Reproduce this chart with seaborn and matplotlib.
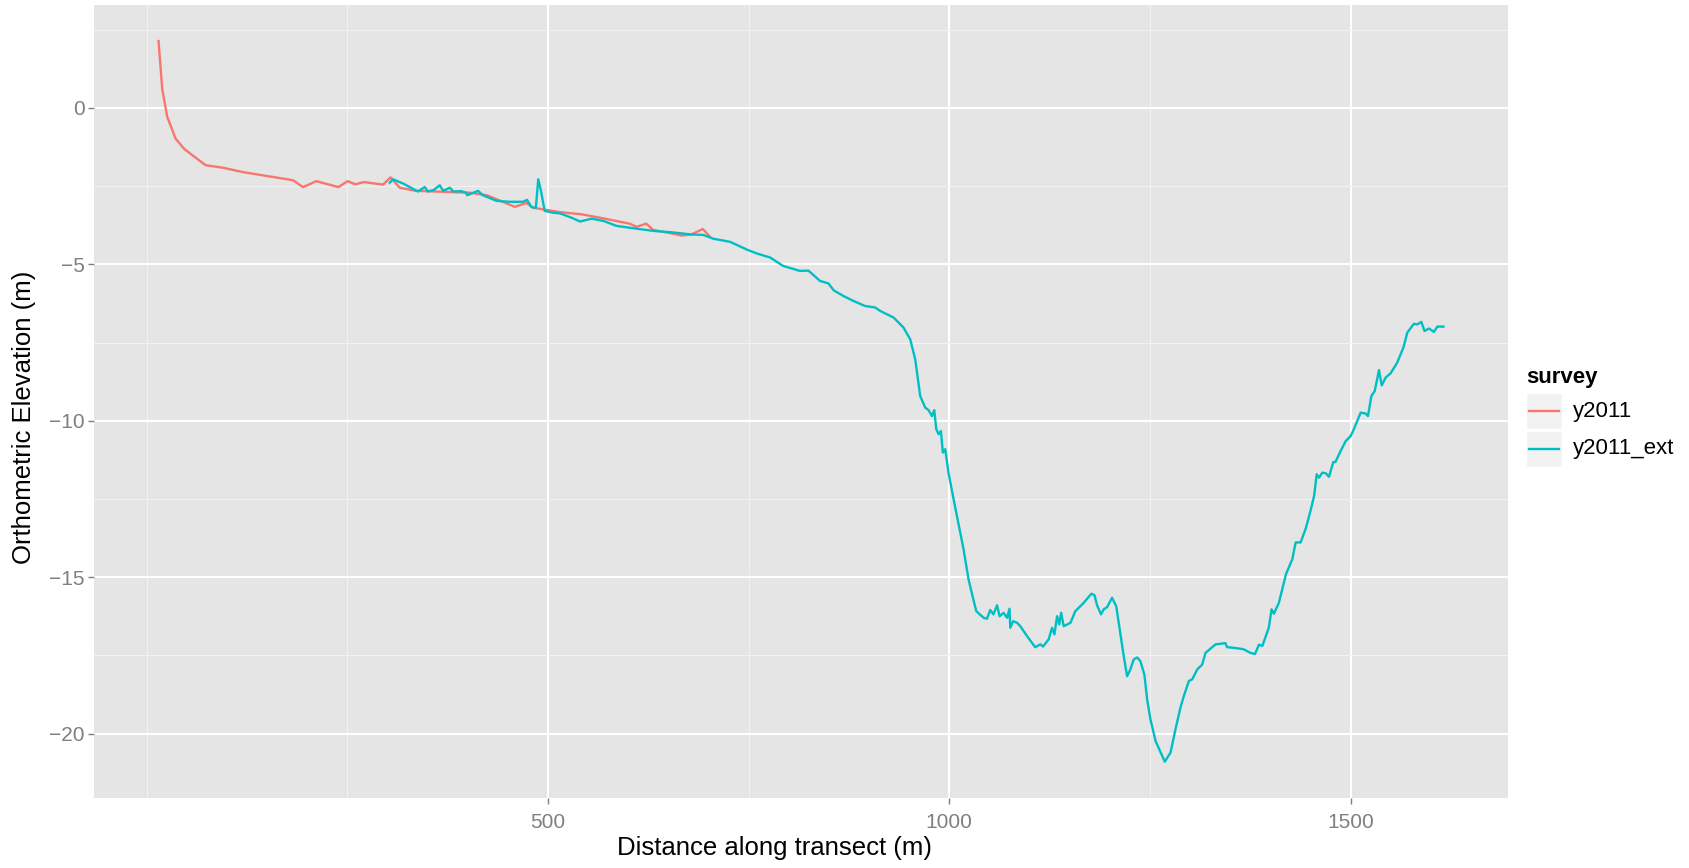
import matplotlib
matplotlib.use("Agg")
import matplotlib.pyplot as plt
from matplotlib.patches import Rectangle
from matplotlib.lines import Line2D
from matplotlib.ticker import FixedLocator
import numpy as np
import pandas as pd
import seaborn as sns

# --- transect profile data -------------------------------------------------
survey_names = ["y2011", "y2011_ext"]
survey_colors = ["#F8766D", "#00BFC4"]

y2011_dist = [15, 19.6, 25.8, 36.2, 47.4, 73.6, 95.2, 120, 182.5, 195, 211.5,
              239, 250.5, 260, 271, 294.7, 304, 315.5, 336, 403, 424, 458.8,
              473.2, 481.7, 498.3, 515, 542, 565, 602, 610.6, 622.5, 631.3,
              656.2, 666.7, 679, 693, 702]
y2011_elev = [2.14, 0.60, -0.28, -0.98, -1.32, -1.83, -1.91, -2.05, -2.31,
              -2.53, -2.34, -2.53, -2.34, -2.44, -2.37, -2.45, -2.22, -2.55,
              -2.65, -2.71, -2.79, -3.16, -3.04, -3.19, -3.26, -3.33, -3.40,
              -3.51, -3.70, -3.80, -3.70, -3.90, -4.02, -4.08, -4.04, -3.87,
              -4.12]

ext_dist = [303, 307, 320, 338, 346.6, 350.7, 358, 365.3, 369.5, 378, 382,
            392, 398, 399.5, 413, 419, 436, 452.6, 469, 474, 479.6, 485, 488,
            491, 496, 506.6, 515, 529.6, 540, 554.5, 569, 585.5, 610.6, 631.3,
            656.2, 677, 693.6, 706, 727, 748, 760, 776.8, 793, 814, 824.6,
            839, 849.5, 856, 868, 880.6, 895, 907.7, 914, 930.6, 943, 951.4,
            957.6, 963.8, 970, 974.2, 978.4, 981.3, 983.8, 986.7, 989.6, 992,
            995, 999, 1005.4, 1017.8, 1024, 1029.5, 1033.7, 1042.8, 1047,
            1051, 1055, 1059.5, 1062.7, 1067.7, 1072, 1075, 1076, 1079.5,
            1084.5, 1088.5, 1097, 1107, 1113.5, 1116.8, 1123.8, 1128, 1131,
            1134.3, 1137, 1139.4, 1142.5, 1151, 1157, 1167.5, 1177, 1181,
            1184, 1189, 1192.4, 1196.6, 1202.8, 1208, 1213, 1217.3, 1221.5,
            1225.6, 1229.8, 1234, 1238, 1243, 1246.5, 1250.6, 1257, 1268.5,
            1275.6, 1281.9, 1288, 1292.2, 1298.5, 1302.6, 1308.9, 1315,
            1319.2, 1331.7, 1344, 1346, 1354.5, 1363, 1367, 1375, 1380.8,
            1385.8, 1390, 1398, 1401.5, 1404.4, 1410.6, 1419.5, 1427.3,
            1431.5, 1437.7, 1444, 1450, 1454.5, 1457.7, 1460.6, 1464.7, 1469,
            1473, 1478.4, 1481, 1487.5, 1493.8, 1500, 1504, 1512.5, 1518.7,
            1521.6, 1525.8, 1530, 1535.3, 1538.7, 1543.6, 1549.9, 1558,
            1565.7, 1570.6, 1578.8, 1583, 1588, 1592, 1597.5, 1603.7, 1608,
            1615.6]
ext_elev = [-2.39, -2.28, -2.42, -2.67, -2.53, -2.67, -2.62, -2.47, -2.65,
            -2.55, -2.67, -2.66, -2.71, -2.79, -2.65, -2.79, -2.97, -3.00,
            -3.00, -2.94, -3.17, -3.19, -2.28, -2.60, -3.29, -3.35, -3.37,
            -3.51, -3.63, -3.54, -3.61, -3.77, -3.86, -3.93, -3.98, -4.04,
            -4.06, -4.18, -4.28, -4.53, -4.65, -4.78, -5.05, -5.21, -5.20,
            -5.53, -5.61, -5.83, -6.01, -6.17, -6.33, -6.38, -6.49, -6.70,
            -7.02, -7.40, -8.04, -9.21, -9.58, -9.66, -9.85, -9.66, -10.27,
            -10.43, -10.33, -11.02, -10.91, -11.66, -12.51, -14.11, -15.07,
            -15.66, -16.09, -16.30, -16.33, -16.05, -16.19, -15.90, -16.25,
            -16.14, -16.30, -16.01, -16.62, -16.41, -16.46, -16.57, -16.89,
            -17.24, -17.15, -17.22, -16.99, -16.62, -16.83, -16.25, -16.51,
            -16.14, -16.57, -16.46, -16.09, -15.82, -15.53, -15.58, -15.89,
            -16.19, -16.03, -15.96, -15.66, -15.93, -16.78, -17.52, -18.17,
            -17.95, -17.63, -17.57, -17.68, -18.11, -18.91, -19.55, -20.24,
            -20.90, -20.61, -19.85, -19.17, -18.80, -18.32, -18.27, -17.95,
            -17.80, -17.42, -17.15, -17.11, -17.24, -17.26, -17.29, -17.31,
            -17.42, -17.46, -17.16, -17.20, -16.62, -16.03, -16.17, -15.82,
            -14.90, -14.43, -13.89, -13.89, -13.45, -12.88, -12.40, -11.71,
            -11.82, -11.66, -11.68, -11.79, -11.32, -11.32, -10.97, -10.65,
            -10.49, -10.27, -9.74, -9.77, -9.85, -9.21, -9.05, -8.38, -8.87,
            -8.62, -8.48, -8.14, -7.66, -7.18, -6.90, -6.92, -6.84, -7.13,
            -7.05, -7.16, -6.99, -6.99]

x_major = [500, 1000, 1500]
x_minor = [0, 250, 750, 1250]
y_major = [0, -5, -10, -15, -20]
y_minor = [2.5, -2.5, -7.5, -12.5, -17.5]

x_title = "Distance along transect (m)"
y_title = "Orthometric Elevation (m)"
legend_title = "survey"

df = pd.concat([
    pd.DataFrame({"distance": y2011_dist, "elevation": y2011_elev,
                  "survey": survey_names[0]}),
    pd.DataFrame({"distance": ext_dist, "elevation": ext_elev,
                  "survey": survey_names[1]}),
], ignore_index=True)

# --- figure ----------------------------------------------------------------
W, H, DPI = 1690, 868, 100
plt.rcParams["font.family"] = ["Liberation Sans", "DejaVu Sans"]
fig = plt.figure(figsize=(W / DPI, H / DPI), dpi=DPI)
fig.patch.set_facecolor("white")

left, right, top, bottom = 94.3, 1507.7, 5.0, 797.7
ax = fig.add_axes([left / W, 1 - bottom / H, (right - left) / W, (bottom - top) / H])
ax.set_facecolor("#E5E5E5")

line_w = 1.7
sns.lineplot(data=df, x="distance", y="elevation", hue="survey",
             hue_order=survey_names, palette=survey_colors,
             estimator=None, sort=False, linewidth=line_w, legend=False, ax=ax)

# ggplot-style 5% expansion of the data range
xmin, xmax = df["distance"].min(), df["distance"].max()
ymin, ymax = df["elevation"].min(), df["elevation"].max()
ax.set_xlim(xmin - 0.05 * (xmax - xmin), xmax + 0.05 * (xmax - xmin))
ax.set_ylim(ymin - 0.05 * (ymax - ymin), ymax + 0.05 * (ymax - ymin))

ax.xaxis.set_major_locator(FixedLocator(x_major))
ax.xaxis.set_minor_locator(FixedLocator(x_minor))
ax.yaxis.set_major_locator(FixedLocator(y_major))
ax.yaxis.set_minor_locator(FixedLocator(y_minor))
ax.set_xticklabels([str(v) for v in x_major])
ax.set_yticklabels([str(v).replace("-", "\u2212") for v in y_major])

ax.grid(which="major", color="white", linewidth=1.5)
ax.grid(which="minor", color="#F2F2F2", linewidth=0.8)
ax.set_axisbelow(True)
for s in ax.spines.values():
    s.set_visible(False)

ax.tick_params(which="major", length=4, width=1, color="#7F7F7F",
               labelcolor="#7F7F7F", labelsize=15)
ax.tick_params(axis="x", which="major", pad=7)
ax.tick_params(axis="y", which="major", pad=3)
ax.tick_params(which="minor", length=0)

ax.set_xlabel(x_title, fontsize=18.5, color="black")
ax.set_ylabel(y_title, fontsize=18.5, color="black")
ax.xaxis.set_label_coords(0.481, -0.048)
ax.yaxis.set_label_coords(-0.041, 0.48)


# --- legend ----------------------------------------------------------------
def fx(px):
    return px / W


def fy(py):
    return 1 - py / H


fig.text(fx(1526), fy(377), legend_title, fontsize=16, fontweight="bold",
         ha="left", va="center")
key_w, key_h = 36, 36
for i, (name, col) in enumerate(zip(survey_names, survey_colors)):
    y0 = 393 + i * (key_h + 1.5)
    fig.patches.append(Rectangle((fx(1526), fy(y0 + key_h)), key_w / W, key_h / H,
                                 transform=fig.transFigure, facecolor="#F2F2F2",
                                 edgecolor="white", linewidth=1))
    yc = y0 + key_h / 2
    fig.lines.append(Line2D([fx(1529), fx(1559)], [fy(yc), fy(yc)],
                            transform=fig.transFigure, color=col, linewidth=line_w))
    fig.text(fx(1573), fy(yc), name, fontsize=16, ha="left", va="center")

fig.savefig("out.png", dpi=DPI)
